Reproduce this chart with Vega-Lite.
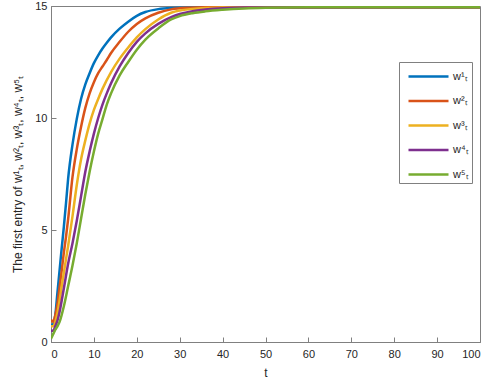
{
  "$schema": "https://vega.github.io/schema/vega-lite/v6.json",
  "width": 429,
  "height": 336,
  "autosize": {"type": "none"},
  "padding": {"left": 51, "top": 6, "right": 10, "bottom": 40},
  "background": "white",
  "config": {
    "font": "Liberation Sans",
    "view": {"stroke": "#808080", "strokeWidth": 1},
    "axis": {
      "domainColor": "#808080",
      "tickColor": "#808080",
      "labelColor": "#262626",
      "titleColor": "#262626",
      "labelFont": "Liberation Sans",
      "titleFont": "Liberation Sans",
      "labelFontSize": 11,
      "titleFontSize": 12,
      "titleFontWeight": "normal",
      "grid": false,
      "tickSize": -5,
      "labelPadding": 9
    }
  },
  "data": {
    "values": [
      {"t": 0, "v": 0.75, "s": "w¹ₜ"}, {"t": 0.5, "v": 0.8, "s": "w¹ₜ"}, {"t": 1, "v": 1.2, "s": "w¹ₜ"}, {"t": 1.5, "v": 2.2, "s": "w¹ₜ"}, {"t": 2, "v": 3.2, "s": "w¹ₜ"}, {"t": 2.5, "v": 4.2, "s": "w¹ₜ"}, {"t": 3, "v": 5.15, "s": "w¹ₜ"}, {"t": 3.5, "v": 6.2, "s": "w¹ₜ"}, {"t": 4, "v": 7.3, "s": "w¹ₜ"}, {"t": 5, "v": 8.8, "s": "w¹ₜ"}, {"t": 6, "v": 9.95, "s": "w¹ₜ"}, {"t": 7, "v": 10.85, "s": "w¹ₜ"}, {"t": 8, "v": 11.5, "s": "w¹ₜ"}, {"t": 9, "v": 12.0, "s": "w¹ₜ"}, {"t": 10, "v": 12.45, "s": "w¹ₜ"}, {"t": 11, "v": 12.8, "s": "w¹ₜ"}, {"t": 12, "v": 13.1, "s": "w¹ₜ"}, {"t": 13, "v": 13.36, "s": "w¹ₜ"}, {"t": 14, "v": 13.6, "s": "w¹ₜ"}, {"t": 16, "v": 13.99, "s": "w¹ₜ"}, {"t": 18, "v": 14.3, "s": "w¹ₜ"}, {"t": 20, "v": 14.56, "s": "w¹ₜ"}, {"t": 22, "v": 14.73, "s": "w¹ₜ"}, {"t": 25, "v": 14.86, "s": "w¹ₜ"}, {"t": 28, "v": 14.91, "s": "w¹ₜ"}, {"t": 32, "v": 14.93, "s": "w¹ₜ"}, {"t": 100, "v": 14.94, "s": "w¹ₜ"},

      {"t": 0, "v": 1.0, "s": "w²ₜ"}, {"t": 0.5, "v": 0.9, "s": "w²ₜ"}, {"t": 1, "v": 1.2, "s": "w²ₜ"}, {"t": 1.5, "v": 1.7, "s": "w²ₜ"}, {"t": 2, "v": 2.45, "s": "w²ₜ"}, {"t": 2.5, "v": 3.2, "s": "w²ₜ"}, {"t": 3, "v": 4.0, "s": "w²ₜ"}, {"t": 3.5, "v": 4.7, "s": "w²ₜ"}, {"t": 4, "v": 5.5, "s": "w²ₜ"}, {"t": 5, "v": 7.35, "s": "w²ₜ"}, {"t": 6, "v": 8.6, "s": "w²ₜ"}, {"t": 7, "v": 9.6, "s": "w²ₜ"}, {"t": 8, "v": 10.45, "s": "w²ₜ"}, {"t": 9, "v": 11.1, "s": "w²ₜ"}, {"t": 10, "v": 11.6, "s": "w²ₜ"}, {"t": 11, "v": 12.0, "s": "w²ₜ"}, {"t": 12, "v": 12.3, "s": "w²ₜ"}, {"t": 13, "v": 12.59, "s": "w²ₜ"}, {"t": 14, "v": 12.9, "s": "w²ₜ"}, {"t": 16, "v": 13.4, "s": "w²ₜ"}, {"t": 18, "v": 13.85, "s": "w²ₜ"}, {"t": 20, "v": 14.2, "s": "w²ₜ"}, {"t": 22, "v": 14.45, "s": "w²ₜ"}, {"t": 25, "v": 14.7, "s": "w²ₜ"}, {"t": 28, "v": 14.85, "s": "w²ₜ"}, {"t": 32, "v": 14.92, "s": "w²ₜ"}, {"t": 36, "v": 14.94, "s": "w²ₜ"}, {"t": 100, "v": 14.94, "s": "w²ₜ"},

      {"t": 0, "v": 0.7, "s": "w³ₜ"}, {"t": 0.5, "v": 0.7, "s": "w³ₜ"}, {"t": 1, "v": 0.9, "s": "w³ₜ"}, {"t": 1.5, "v": 1.3, "s": "w³ₜ"}, {"t": 2, "v": 1.85, "s": "w³ₜ"}, {"t": 2.5, "v": 2.5, "s": "w³ₜ"}, {"t": 3, "v": 3.1, "s": "w³ₜ"}, {"t": 3.5, "v": 3.7, "s": "w³ₜ"}, {"t": 4, "v": 4.3, "s": "w³ₜ"}, {"t": 5, "v": 5.6, "s": "w³ₜ"}, {"t": 6, "v": 7.0, "s": "w³ₜ"}, {"t": 7, "v": 8.15, "s": "w³ₜ"}, {"t": 8, "v": 9.0, "s": "w³ₜ"}, {"t": 9, "v": 9.75, "s": "w³ₜ"}, {"t": 10, "v": 10.36, "s": "w³ₜ"}, {"t": 11, "v": 10.85, "s": "w³ₜ"}, {"t": 12, "v": 11.3, "s": "w³ₜ"}, {"t": 14, "v": 12.05, "s": "w³ₜ"}, {"t": 16, "v": 12.65, "s": "w³ₜ"}, {"t": 18, "v": 13.15, "s": "w³ₜ"}, {"t": 20, "v": 13.6, "s": "w³ₜ"}, {"t": 22, "v": 13.97, "s": "w³ₜ"}, {"t": 25, "v": 14.4, "s": "w³ₜ"}, {"t": 28, "v": 14.7, "s": "w³ₜ"}, {"t": 30, "v": 14.8, "s": "w³ₜ"}, {"t": 33, "v": 14.87, "s": "w³ₜ"}, {"t": 36, "v": 14.91, "s": "w³ₜ"}, {"t": 40, "v": 14.93, "s": "w³ₜ"}, {"t": 100, "v": 14.94, "s": "w³ₜ"},

      {"t": 0, "v": 0.5, "s": "w⁴ₜ"}, {"t": 0.5, "v": 0.5, "s": "w⁴ₜ"}, {"t": 1, "v": 0.7, "s": "w⁴ₜ"}, {"t": 1.5, "v": 0.95, "s": "w⁴ₜ"}, {"t": 2, "v": 1.35, "s": "w⁴ₜ"}, {"t": 3, "v": 2.4, "s": "w⁴ₜ"}, {"t": 4, "v": 3.5, "s": "w⁴ₜ"}, {"t": 5, "v": 4.4, "s": "w⁴ₜ"}, {"t": 6, "v": 5.4, "s": "w⁴ₜ"}, {"t": 7, "v": 6.5, "s": "w⁴ₜ"}, {"t": 8, "v": 7.6, "s": "w⁴ₜ"}, {"t": 9, "v": 8.5, "s": "w⁴ₜ"}, {"t": 10, "v": 9.3, "s": "w⁴ₜ"}, {"t": 11, "v": 10.0, "s": "w⁴ₜ"}, {"t": 12, "v": 10.6, "s": "w⁴ₜ"}, {"t": 13, "v": 11.1, "s": "w⁴ₜ"}, {"t": 14, "v": 11.55, "s": "w⁴ₜ"}, {"t": 16, "v": 12.3, "s": "w⁴ₜ"}, {"t": 18, "v": 12.9, "s": "w⁴ₜ"}, {"t": 20, "v": 13.4, "s": "w⁴ₜ"}, {"t": 22, "v": 13.78, "s": "w⁴ₜ"}, {"t": 25, "v": 14.2, "s": "w⁴ₜ"}, {"t": 28, "v": 14.5, "s": "w⁴ₜ"}, {"t": 30, "v": 14.64, "s": "w⁴ₜ"}, {"t": 33, "v": 14.77, "s": "w⁴ₜ"}, {"t": 36, "v": 14.84, "s": "w⁴ₜ"}, {"t": 40, "v": 14.9, "s": "w⁴ₜ"}, {"t": 45, "v": 14.93, "s": "w⁴ₜ"}, {"t": 100, "v": 14.94, "s": "w⁴ₜ"},

      {"t": 0, "v": 0.15, "s": "w⁵ₜ"}, {"t": 0.5, "v": 0.35, "s": "w⁵ₜ"}, {"t": 1, "v": 0.55, "s": "w⁵ₜ"}, {"t": 1.5, "v": 0.7, "s": "w⁵ₜ"}, {"t": 2, "v": 0.9, "s": "w⁵ₜ"}, {"t": 3, "v": 1.6, "s": "w⁵ₜ"}, {"t": 4, "v": 2.5, "s": "w⁵ₜ"}, {"t": 5, "v": 3.4, "s": "w⁵ₜ"}, {"t": 6, "v": 4.4, "s": "w⁵ₜ"}, {"t": 7, "v": 5.5, "s": "w⁵ₜ"}, {"t": 8, "v": 6.6, "s": "w⁵ₜ"}, {"t": 9, "v": 7.6, "s": "w⁵ₜ"}, {"t": 10, "v": 8.5, "s": "w⁵ₜ"}, {"t": 11, "v": 9.3, "s": "w⁵ₜ"}, {"t": 12, "v": 9.95, "s": "w⁵ₜ"}, {"t": 13, "v": 10.6, "s": "w⁵ₜ"}, {"t": 14, "v": 11.1, "s": "w⁵ₜ"}, {"t": 16, "v": 11.9, "s": "w⁵ₜ"}, {"t": 18, "v": 12.5, "s": "w⁵ₜ"}, {"t": 20, "v": 13.05, "s": "w⁵ₜ"}, {"t": 22, "v": 13.5, "s": "w⁵ₜ"}, {"t": 25, "v": 14.0, "s": "w⁵ₜ"}, {"t": 28, "v": 14.4, "s": "w⁵ₜ"}, {"t": 30, "v": 14.55, "s": "w⁵ₜ"}, {"t": 33, "v": 14.68, "s": "w⁵ₜ"}, {"t": 36, "v": 14.76, "s": "w⁵ₜ"}, {"t": 40, "v": 14.83, "s": "w⁵ₜ"}, {"t": 45, "v": 14.89, "s": "w⁵ₜ"}, {"t": 50, "v": 14.92, "s": "w⁵ₜ"}, {"t": 60, "v": 14.94, "s": "w⁵ₜ"}, {"t": 100, "v": 14.94, "s": "w⁵ₜ"}
    ]
  },
  "mark": {"type": "line", "strokeWidth": 2.5, "interpolate": "monotone", "clip": true},
  "encoding": {
    "x": {
      "field": "t", "type": "quantitative",
      "scale": {"domain": [0, 100], "nice": false},
      "axis": {"title": "t", "values": [0,10,20,30,40,50,60,70,80,90,100], "labelPadding": 11, "titlePadding": 8}
    },
    "y": {
      "field": "v", "type": "quantitative",
      "scale": {"domain": [0, 15], "nice": false},
      "axis": {"title": "The first entry of w¹ₜ, w²ₜ, w³ₜ, w⁴ₜ, w⁵ₜ", "values": [0,5,10,15], "titlePadding": 10}
    },
    "color": {
      "field": "s", "type": "nominal",
      "scale": {"domain": ["w¹ₜ", "w²ₜ", "w³ₜ", "w⁴ₜ", "w⁵ₜ"], "range": ["#0072BD", "#D95319", "#EDB120", "#7E2F8E", "#77AC30"]},
      "legend": {
        "title": null,
        "orient": "none",
        "legendX": 348,
        "legendY": 56,
        "symbolType": "M-0.5,0L3.5,0",
        "symbolSize": 400,
        "symbolStrokeWidth": 2.5,
        "labelFontSize": 11,
        "labelColor": "#262626",
        "strokeColor": "#808080",
        "fillColor": "white",
        "padding": 3,
        "rowPadding": 7.5,
        "labelOffset": 28
      }
    }
  }
}
